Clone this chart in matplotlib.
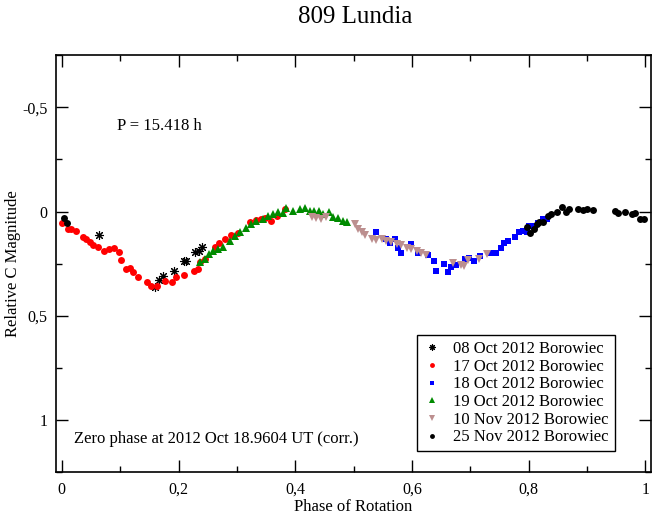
"""Lightcurve of 809 Lundia, phased with P = 15.418 h."""
import matplotlib
matplotlib.use("Agg")
import matplotlib.pyplot as plt
from matplotlib.ticker import MultipleLocator, FuncFormatter

plt.rcParams["font.family"] = ["Liberation Serif", "DejaVu Serif"]

# 08 Oct 2012 (open asterisks)
oct08_phase = [0.063, 0.159, 0.166, 0.173, 0.192, 0.209, 0.212, 0.228, 0.235, 0.240]
oct08_mag = [0.114, 0.363, 0.327, 0.311, 0.286, 0.235, 0.235, 0.194, 0.189, 0.168]

# 17 Oct 2012 (red)
oct17_phase = [0.001, 0.010, 0.016, 0.024, 0.036, 0.042, 0.049, 0.054, 0.062, 0.073,
               0.081, 0.089, 0.098, 0.102, 0.110, 0.117, 0.122, 0.130, 0.146, 0.153,
               0.163, 0.176, 0.189, 0.196, 0.210, 0.226, 0.233, 0.236, 0.245, 0.262,
               0.270, 0.279, 0.290, 0.302, 0.322, 0.333, 0.342, 0.348, 0.359, 0.368,
               0.382]
oct17_mag = [0.054, 0.082, 0.086, 0.092, 0.120, 0.133, 0.146, 0.162, 0.168, 0.187,
             0.178, 0.175, 0.194, 0.232, 0.276, 0.270, 0.292, 0.316, 0.340, 0.356,
             0.356, 0.332, 0.340, 0.316, 0.305, 0.284, 0.276, 0.241, 0.229, 0.168,
             0.149, 0.133, 0.114, 0.101, 0.048, 0.040, 0.035, 0.032, 0.046, 0.022,
             -0.010]

# 18 Oct 2012 (blue)
oct18_phase = [0.538, 0.556, 0.562, 0.571, 0.576, 0.582, 0.599, 0.611, 0.628, 0.638,
               0.642, 0.655, 0.662, 0.667, 0.675, 0.691, 0.698, 0.706, 0.716, 0.734,
               0.745, 0.752, 0.758, 0.765, 0.776, 0.784, 0.791, 0.797, 0.801, 0.811,
               0.817, 0.825, 0.831]
oct18_mag = [0.098, 0.133, 0.149, 0.133, 0.173, 0.197, 0.157, 0.197, 0.210, 0.237,
             0.284, 0.252, 0.289, 0.268, 0.257, 0.229, 0.221, 0.237, 0.213, 0.197,
             0.200, 0.173, 0.149, 0.141, 0.120, 0.098, 0.094, 0.098, 0.067, 0.070,
             0.054, 0.038, 0.035]

# 19 Oct 2012 (green)
oct19_phase = [0.236, 0.245, 0.252, 0.259, 0.268, 0.276, 0.288, 0.296, 0.305, 0.316,
               0.325, 0.333, 0.345, 0.353, 0.362, 0.371, 0.379, 0.385, 0.396, 0.408,
               0.416, 0.425, 0.433, 0.441, 0.448, 0.458, 0.465, 0.473, 0.482, 0.488]
oct19_mag = [0.244, 0.226, 0.205, 0.189, 0.178, 0.168, 0.141, 0.117, 0.098, 0.078,
             0.058, 0.046, 0.038, 0.019, 0.014, 0.003, 0.008, -0.015, -0.001, -0.010,
             -0.016, -0.001, -0.001, -0.001, 0.010, 0.003, 0.025, 0.032, 0.046, 0.048]

# 10 Nov 2012 (rosy brown)
nov10_phase = [0.428, 0.436, 0.445, 0.453, 0.502, 0.508, 0.514, 0.519, 0.531, 0.539,
               0.548, 0.556, 0.565, 0.574, 0.582, 0.591, 0.599, 0.608, 0.616, 0.625,
               0.671, 0.685, 0.690, 0.696, 0.715, 0.728]
nov10_mag = [0.025, 0.032, 0.038, 0.025, 0.062, 0.086, 0.098, 0.114, 0.130, 0.137,
             0.133, 0.141, 0.146, 0.157, 0.162, 0.173, 0.178, 0.189, 0.197, 0.210,
             0.248, 0.257, 0.262, 0.232, 0.229, 0.205]

# 25 Nov 2012 (black, filled)
nov25_phase = [0.003, 0.009, 0.797, 0.802, 0.809, 0.814, 0.818, 0.825, 0.834, 0.839,
               0.848, 0.858, 0.865, 0.870, 0.885, 0.894, 0.900, 0.910, 0.948, 0.954,
               0.965, 0.977, 0.982, 0.991, 0.998]
nov25_mag = [0.030, 0.054, 0.073, 0.101, 0.083, 0.062, 0.051, 0.048, 0.022, 0.010,
             0.000, -0.022, 0.003, -0.010, -0.010, -0.006, -0.013, -0.006, -0.001, 0.006,
             0.003, 0.014, 0.006, 0.035, 0.035]

fig = plt.figure(figsize=(6.59, 5.16), dpi=100)
fig.patch.set_facecolor("white")
ax = fig.add_axes([0.085, 0.085, 0.903, 0.808])

ax.plot(oct08_phase, oct08_mag, ls="none", marker=(8, 2, 0), ms=6.5, mew=0.8,
        color="black", label="08 Oct 2012 Borowiec")
ax.plot(oct17_phase, oct17_mag, ls="none", marker="o", ms=5, mew=0,
        color="#ff0000", label="17 Oct 2012 Borowiec")
ax.plot(oct18_phase, oct18_mag, ls="none", marker="s", ms=4.8, mew=0,
        color="#0000ff", label="18 Oct 2012 Borowiec")
ax.plot(oct19_phase, oct19_mag, ls="none", marker="^", ms=5.5, mew=0,
        color="#008b00", label="19 Oct 2012 Borowiec")
ax.plot(nov10_phase, nov10_mag, ls="none", marker="v", ms=5.5, mew=0,
        color="#bc8f8f", label="10 Nov 2012 Borowiec")
ax.plot(nov25_phase, nov25_mag, ls="none", marker="o", ms=5, mew=0,
        color="black", label="25 Nov 2012 Borowiec")

ax.set_xlim(-0.01, 1.01)
ax.set_ylim(1.25, -0.75)

comma = FuncFormatter(lambda v, pos: f"{v:g}".replace(".", ","))
ax.xaxis.set_major_locator(MultipleLocator(0.2))
ax.xaxis.set_minor_locator(MultipleLocator(0.1))
ax.yaxis.set_major_locator(MultipleLocator(0.5))
ax.yaxis.set_minor_locator(MultipleLocator(0.25))
ax.xaxis.set_major_formatter(comma)
ax.yaxis.set_major_formatter(comma)
ax.tick_params(which="both", direction="in", top=True, right=True,
               labelsize=11.5, width=1.0)
ax.tick_params(which="major", length=8.5, pad=6)
ax.tick_params(axis="x", which="major", pad=7)
ax.tick_params(which="minor", length=4.3)
for sp in ax.spines.values():
    sp.set_linewidth(1.2)

ax.set_xlabel("Phase of Rotation", fontsize=12, labelpad=1)
ax.set_ylabel("Relative C Magnitude", fontsize=12, labelpad=1)
fig.text(0.539, 0.968, "809 Lundia", ha="center", va="center", fontsize=18)

ax.text(0.103, 0.831, "P = 15.418 h", transform=ax.transAxes, fontsize=12,
        va="center")
ax.text(0.03, 0.08, "Zero phase at 2012 Oct 18.9604 UT (corr.)",
        transform=ax.transAxes, fontsize=12, va="center")

leg = ax.legend(loc="lower right", bbox_to_anchor=(0.939, 0.050), fontsize=12,
                frameon=True, fancybox=False, edgecolor="black", framealpha=1,
                handlelength=1.1, handletextpad=0.75, labelspacing=0.1,
                borderpad=0.35, borderaxespad=0, numpoints=1, markerscale=0.7)
leg.get_frame().set_linewidth(1.0)

fig.savefig("out.png", dpi=100)
